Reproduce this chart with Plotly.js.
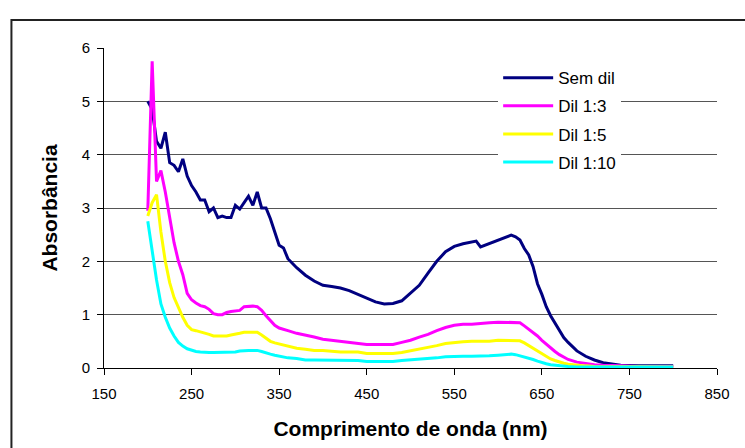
<!DOCTYPE html>
<html>
<head>
<meta charset="utf-8">
<script src="https://cdn.plot.ly/plotly-3.0.1.min.js"></script>
<style>html,body{margin:0;padding:0;background:#fff;}#chart{width:745px;height:448px;}</style>
</head>
<body>
<div id="chart"></div>
<script>
const wavelength = [200,205,210,215,220,225,230,235,240,245,250,255,260,265,270,275,280,285,290,295,300,305,310,315,320,325,330,335,340,345,350,355,360,
370,380,390,400,410,420,430,440,450,460,470,480,490,500,510,520,530,540,550,560,570,
575,580,590,600,610,
615,620,625,630,635,640,645,650,655,660,665,670,675,680,
690,700,710,720,730,740,760,780,800];

const semDil = [5.0,4.85,4.25,4.12,4.42,3.85,3.8,3.68,3.92,3.6,3.42,3.3,3.15,3.15,2.93,3.0,2.82,2.85,2.82,2.82,3.05,2.98,3.1,3.22,3.05,3.3,3.0,3.0,2.8,2.55,2.3,2.25,2.05,
1.88,1.74,1.63,1.55,1.53,1.5,1.45,1.38,1.31,1.24,1.2,1.21,1.26,1.4,1.55,1.78,2.0,2.18,2.28,2.33,2.36,
2.38,2.27,2.33,2.4,2.45,
2.49,2.46,2.4,2.24,2.12,1.9,1.58,1.38,1.15,0.98,0.85,0.7,0.57,0.48,
0.32,0.22,0.15,0.1,0.07,0.05,0.04,0.04,0.04];

const dil13 = [2.95,5.75,3.5,3.7,3.3,2.8,2.35,2.0,1.75,1.4,1.28,1.22,1.17,1.15,1.1,1.02,1.0,1.0,1.04,1.06,1.07,1.08,1.15,1.16,1.16,1.15,1.08,0.98,0.88,0.8,0.75,0.72,0.7,
0.65,0.62,0.58,0.54,0.52,0.5,0.48,0.45,0.44,0.44,0.44,0.44,0.48,0.52,0.58,0.63,0.7,0.76,0.8,0.82,0.82,
0.83,0.83,0.85,0.86,0.86,
0.86,0.86,0.85,0.79,0.73,0.67,0.6,0.52,0.45,0.37,0.31,0.25,0.2,0.16,
0.11,0.08,0.06,0.05,0.04,0.04,0.03,0.03,0.03];

const dil15 = [2.85,3.1,3.25,2.55,2.0,1.6,1.32,1.12,0.95,0.8,0.72,0.7,0.68,0.66,0.63,0.6,0.6,0.6,0.6,0.62,0.63,0.65,0.67,0.67,0.67,0.67,0.62,0.56,0.5,0.47,0.45,0.42,0.4,
0.37,0.35,0.33,0.33,0.31,0.3,0.3,0.3,0.27,0.27,0.27,0.27,0.29,0.32,0.35,0.38,0.42,0.46,0.48,0.49,0.5,
0.5,0.5,0.5,0.52,0.52,
0.52,0.52,0.51,0.47,0.42,0.37,0.31,0.26,0.21,0.17,0.14,0.11,0.09,0.07,
0.05,0.04,0.03,0.03,0.02,0.02,0.02,0.02,0.02];

const dil110 = [2.75,2.2,1.65,1.2,0.95,0.75,0.6,0.48,0.41,0.36,0.33,0.31,0.3,0.29,0.29,0.29,0.29,0.29,0.29,0.29,0.3,0.32,0.33,0.33,0.33,0.33,0.31,0.28,0.26,0.24,0.22,0.21,0.19,
0.18,0.15,0.15,0.15,0.15,0.15,0.15,0.14,0.12,0.12,0.12,0.12,0.14,0.15,0.16,0.18,0.19,0.21,0.22,0.22,0.22,
0.22,0.22,0.23,0.24,0.26,
0.26,0.25,0.23,0.21,0.18,0.16,0.13,0.1,0.08,0.06,0.05,0.04,0.03,0.03,
0.02,0.02,0.02,0.02,0.02,0.02,0.02,0.02,0.02];

const seriesNames = ["Sem dil","Dil 1:3","Dil 1:5","Dil 1:10"];
const seriesColors = ["#000080","#FF00FF","#FFFF00","#00FFFF"];
const seriesValues = [semDil, dil13, dil15, dil110];

const xTickVals = [150,250,350,450,550,650,750,850];
const yTickVals = [0,1,2,3,4,5,6];

const FONT = "Liberation Sans, Arial, sans-serif";

const traces = seriesValues.map((vals, i) => ({
  x: wavelength,
  y: vals,
  type: "scatter",
  mode: "lines",
  name: seriesNames[i],
  legendgroup: "g" + i,
  line: {color: seriesColors[i], width: 3}
}));

const layout = {
  width: 745,
  height: 448,
  margin: {l: 104, r: 28, t: 48, b: 80},
  paper_bgcolor: "#fff",
  plot_bgcolor: "#fff",
  font: {family: FONT, size: 15, color: "#000"},
  showlegend: true,
  legend: {
    x: 0.643, y: 0.962, xanchor: "left", yanchor: "top",
    bgcolor: "#fff", borderwidth: 0,
    font: {family: FONT, size: 17, color: "#000"},
    itemwidth: 50, tracegroupgap: 3
  },
  xaxis: {
    range: [150, 850],
    tickvals: xTickVals,
    ticktext: xTickVals.map(String),
    ticks: "outside", ticklen: 6, tickcolor: "#000", tickwidth: 1,
    showline: true, linecolor: "#000", linewidth: 1,
    showgrid: false, zeroline: false,
    tickfont: {family: FONT, size: 15},
    ticklabelstandoff: 6,
    title: {text: "Comprimento de onda (nm)", font: {family: FONT, size: 21, weight: "bold"}, standoff: 20}
  },
  yaxis: {
    range: [0, 6],
    tickvals: yTickVals,
    ticks: "outside", ticklen: 6, tickcolor: "#000", tickwidth: 1,
    showline: true, linecolor: "#000", linewidth: 1,
    showgrid: true, gridcolor: "#555555", gridwidth: 1,
    zeroline: false,
    tickfont: {family: FONT, size: 15},
    ticklabelstandoff: 4,
    title: {text: "Absorbância", font: {family: FONT, size: 21, weight: "bold"}, standoff: 18}
  },
  shapes: [{
    type: "rect", xref: "paper", yref: "paper",
    x0: -0.151, x1: 1.06, y0: -0.3, y1: 1.0875,
    line: {color: "#222", width: 2}, fillcolor: "rgba(0,0,0,0)", layer: "below"
  }]
};

Plotly.newPlot("chart", traces, layout, {displayModeBar: false, staticPlot: true});
</script>
</body>
</html>
